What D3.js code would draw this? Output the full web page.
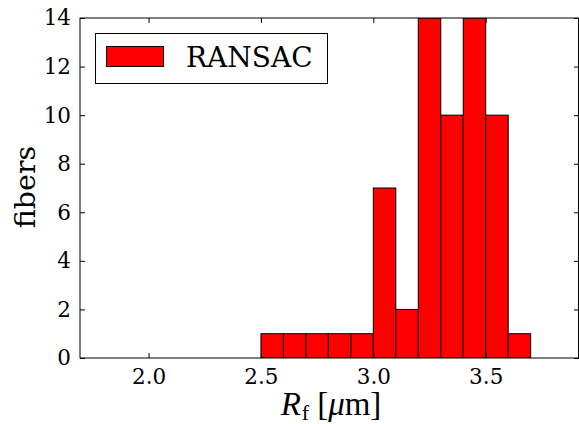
<!DOCTYPE html>
<html>
<head>
<meta charset="utf-8">
<script src="https://cdn.jsdelivr.net/npm/d3@7"></script>
<style>
  body { margin: 0; background: #fff; }
  text { font-family: "DejaVu Serif", serif; fill: #000; }
</style>
</head>
<body>
<div id="chart"></div>
<script>
// Histogram data: bin starts (um) and counts
const binStarts = [2.5, 2.6, 2.7, 2.8, 2.9, 3.0, 3.1, 3.2, 3.3, 3.4, 3.5, 3.6];
const counts = [1, 1, 1, 1, 1, 7, 2, 14, 10, 14, 10, 1];
const binWidth = 0.1;
const xTicks = [2.0, 2.5, 3.0, 3.5];
const yTicks = [0, 2, 4, 6, 8, 10, 12, 14];
const seriesName = "RANSAC";

const margin = { top: 18, right: 0, bottom: 66, left: 80 };
const width = 579 - margin.left - margin.right;
const height = 424 - margin.top - margin.bottom;

const svg = d3.select("#chart")
    .append("svg")
    .attr("width", 579)
    .attr("height", 424)
    .append("g")
    .attr("transform", "translate(" + margin.left + "," + margin.top + ")");

const x = d3.scaleLinear().domain([1.695, 3.915]).range([0, width]);
const y = d3.scaleLinear().domain([0, 14]).range([height, 0]);

svg.append("defs").append("clipPath").attr("id", "clip")
    .append("rect").attr("width", width).attr("height", height);

// bars
svg.append("g")
    .attr("clip-path", "url(#clip)")
    .selectAll("rect")
    .data(binStarts)
    .enter()
    .append("rect")
    .attr("x", d => x(d))
    .attr("y", (d, i) => y(counts[i]))
    .attr("width", d => x(d + binWidth) - x(d))
    .attr("height", (d, i) => height - y(counts[i]))
    .attr("fill", "#ff0000")
    .attr("stroke", "#000")
    .attr("stroke-width", 1);

// axes, ticks inside
const tickLen = 5;
svg.append("g")
    .attr("transform", "translate(0," + height + ")")
    .call(d3.axisBottom(x).tickValues(xTicks).tickFormat(d3.format(".1f")).tickSizeInner(-tickLen).tickSizeOuter(0).tickPadding(11))
    .call(g => g.select(".domain").remove())
    .selectAll("text").style("font-size", "21.5px").style("font-family", "DejaVu Serif");

svg.append("g")
    .call(d3.axisTop(x).tickValues(xTicks).tickFormat("").tickSizeInner(-tickLen).tickSizeOuter(0))
    .call(g => g.select(".domain").remove());

svg.append("g")
    .call(d3.axisLeft(y).tickValues(yTicks).tickSizeInner(-tickLen).tickSizeOuter(0).tickPadding(9))
    .call(g => g.select(".domain").remove())
    .selectAll("text").style("font-size", "21.5px").style("font-family", "DejaVu Serif");

svg.append("g")
    .attr("transform", "translate(" + width + ",0)")
    .call(d3.axisRight(y).tickValues(yTicks).tickFormat("").tickSizeInner(-tickLen).tickSizeOuter(0))
    .call(g => g.select(".domain").remove());

svg.selectAll(".tick line").attr("stroke", "#000");

// frame
svg.append("rect")
    .attr("width", width - 0.5)
    .attr("height", height)
    .attr("fill", "none")
    .attr("stroke", "#000")
    .attr("stroke-width", 1);

// legend
const legend = svg.append("g").attr("transform", "translate(15,15)");
legend.append("rect")
    .attr("x", 0.5).attr("y", 0.5)
    .attr("width", 232).attr("height", 50)
    .attr("fill", "#fff").attr("stroke", "#000");
legend.append("rect")
    .attr("x", 11.5).attr("y", 13.5)
    .attr("width", 57).attr("height", 20)
    .attr("fill", "#ff0000").attr("stroke", "#000");
legend.append("text")
    .attr("x", 91).attr("y", 34)
    .style("font-size", "28px")
    .text(seriesName);

// axis labels
svg.append("text")
    .attr("transform", "rotate(-90)")
    .attr("x", -height / 2 + 1)
    .attr("y", -margin.left + 35)
    .attr("text-anchor", "middle")
    .style("font-size", "28.5px")
    .text("fibers");

const xl = svg.append("text")
    .attr("x", 331 - margin.left)
    .attr("y", height + 57)
    .attr("text-anchor", "middle")
    .style("font-family", "Liberation Serif")
    .style("font-size", "33px");
xl.append("tspan").style("font-style", "italic").text("R");
xl.append("tspan").attr("dy", 5).attr("dx", 1).style("font-size", "22px").text("f");
xl.append("tspan").attr("dy", -5).attr("dx", 8).text("[");
xl.append("tspan").style("font-style", "italic").text("μ");
xl.append("tspan").text("m]");
</script>
</body>
</html>
